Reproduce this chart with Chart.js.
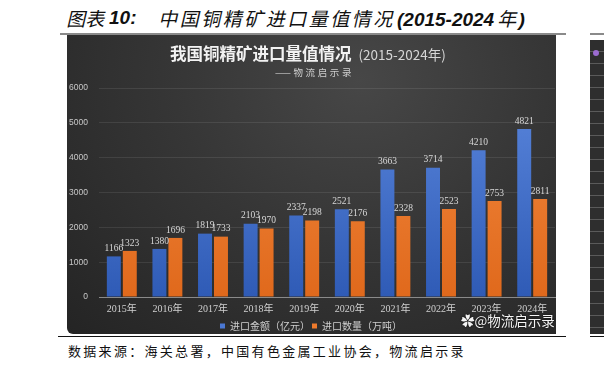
<!DOCTYPE html>
<html>
<head>
<meta charset="utf-8">
<script src="https://cdn.jsdelivr.net/npm/chart.js@4.4.1/dist/chart.umd.min.js"></script>
<style>
  html, body { margin: 0; padding: 0; background: #fff; }
  body { width: 604px; height: 370px; position: relative; overflow: hidden; }
  .hd { position: absolute; top: 7px; white-space: nowrap; color: #111; font-size: 19px; line-height: 22px; }
  .cj { font-family: "Noto Sans CJK SC", sans-serif; font-weight: normal; display: inline-block; transform: skewX(-13deg); }
  .lt { font-family: "Liberation Sans", sans-serif; font-weight: bold; font-style: italic; }
  #topline { position: absolute; left: 60px; top: 33px; width: 506px; height: 2px; background: #8a8a8a; }
  #botline { position: absolute; left: 58px; top: 336px; width: 508px; height: 1px; background: #111; }
  #panel {
    position: absolute; left: 67px; top: 35px; width: 489px; height: 299px;
    background: radial-gradient(ellipse at 60% 15%, #474747 0%, #363636 45%, #242424 100%);
    border-bottom-left-radius: 6px; overflow: hidden;
  }
  #chart { position: absolute; left: 0; top: 0; }
  #ctitle {
    position: absolute; left: 103px; top: 6px; white-space: nowrap; color: #f2f2f2;
    font: bold 16.5px "Noto Sans CJK SC", sans-serif;
  }
  #ctitle span { font-weight: normal; font-size: 13.5px; color: #d6d6d6; margin-left: 7px; }
  #csub {
    position: absolute; left: 208px; top: 30px; white-space: nowrap; color: #cfcfcf;
    font: 9.5px "Noto Sans CJK SC", sans-serif; letter-spacing: 2.6px;
  }
  #wm {
    position: absolute; left: 394px; top: 275px; white-space: nowrap; color: #f4f4f4;
    font: 13.5px "Noto Sans CJK SC", sans-serif; text-shadow: 0 0 2px #000;
  }
  #source {
    position: absolute; left: 68px; top: 341px; white-space: nowrap; color: #111;
    font: 13px "Noto Sans CJK SC", sans-serif; letter-spacing: 2.3px;
  }
  #side {
    position: absolute; left: 590px; top: 40px; width: 14px; height: 294px;
    background: repeating-linear-gradient(to bottom, #2e2e2e 0px, #2e2e2e 11px, #5a5a5a 11px, #5a5a5a 12px);
  }
  #sidetop { position: absolute; left: 590px; top: 33px; width: 14px; height: 2px; background: #8a8a8a; }
  #sidebot { position: absolute; left: 590px; top: 336px; width: 14px; height: 1px; background: #111; }
  #dot { position: absolute; left: 593px; top: 50px; width: 6px; height: 6px; border-radius: 50%; background: #9b6bd0; }
</style>
</head>
<body>
<div class="hd" style="left:68px"><span class="cj">图表</span></div>
<div class="hd" style="left:109px"><span class="lt">10:</span></div>
<div class="hd" style="left:160px"><span class="cj" style="letter-spacing:2.5px">中国铜精矿进口量值情况</span></div>
<div class="hd" style="left:397px"><span class="lt">(2015-2024 </span><span class="cj">年</span><span class="lt">)</span></div>
<div id="topline"></div>
<div id="panel">
  <canvas id="chart" width="489" height="306"></canvas>
  <div id="ctitle">我国铜精矿进口量值情况<span>(2015-2024年)</span></div>
  <div id="csub">——物流启示录</div>
  <div id="wm">&#10047;@物流启示录</div>
</div>
<div id="botline"></div>
<div id="sidetop"></div>
<div id="side"></div>
<div id="dot"></div>
<div id="sidebot"></div>
<div id="source">数据来源：海关总署，中国有色金属工业协会，物流启示录</div>

<script>
const years = ["2015年", "2016年", "2017年", "2018年", "2019年", "2020年", "2021年", "2022年", "2023年", "2024年"];
const importValue = [1166, 1380, 1819, 2103, 2337, 2521, 3663, 3714, 4210, 4821];   // 亿元
const importVolume = [1323, 1696, 1733, 1970, 2198, 2176, 2328, 2523, 2753, 2811];  // 万吨
const seriesNames = ["进口金额（亿元）", "进口数量（万吨）"];
const yTicks = [0, 1000, 2000, 3000, 4000, 5000, 6000];

// vertical gradient for each bar colour
function barFill(top, bottom) {
  return function(ctx) {
    const area = ctx.chart.chartArea;
    if (!area) return top;
    const g = ctx.chart.ctx.createLinearGradient(0, area.top, 0, area.bottom);
    g.addColorStop(0, top);
    g.addColorStop(1, bottom);
    return g;
  };
}

// numbers above bars
const valueLabels = {
  id: "valueLabels",
  afterDatasetsDraw(chart) {
    const ctx = chart.ctx;
    ctx.save();
    ctx.font = "9.5px 'Liberation Serif', serif";
    ctx.fillStyle = "#d8d8d8";
    ctx.textAlign = "center";
    ctx.textBaseline = "bottom";
    chart.data.datasets.forEach((ds, i) => {
      chart.getDatasetMeta(i).data.forEach((bar, j) => {
        ctx.fillText(ds.data[j], bar.x, bar.y - 3);
      });
    });
    ctx.restore();
  }
};

new Chart(document.getElementById("chart"), {
  type: "bar",
  data: {
    labels: years,
    datasets: [
      {
        label: seriesNames[0],
        data: importValue,
        backgroundColor: barFill("#5a86dc", "#2f5bb6"),
        categoryPercentage: 0.70,
        barPercentage: 0.875
      },
      {
        label: seriesNames[1],
        data: importVolume,
        backgroundColor: barFill("#f2893f", "#e0691c"),
        categoryPercentage: 0.70,
        barPercentage: 0.875
      }
    ]
  },
  options: {
    responsive: false,
    animation: false,
    layout: { padding: { top: 53, right: 1, bottom: 0, left: 0 } },
    plugins: {
      tooltip: { enabled: false },
      legend: {
        position: "bottom",
        labels: {
          color: "#cfcfcf",
          font: { size: 10, family: "'Noto Sans CJK SC', sans-serif" },
          boxWidth: 5,
          boxHeight: 5,
          padding: 2,
          generateLabels(chart) {
            const cols = ["#4a78d4", "#ee7a2c"];
            return chart.data.datasets.map((ds, i) => ({
              text: ds.label,
              fillStyle: cols[i],
              strokeStyle: cols[i],
              lineWidth: 0,
              fontColor: "#cfcfcf",
              datasetIndex: i
            }));
          }
        }
      }
    },
    scales: {
      x: {
        grid: { display: false, drawTicks: false },
        border: { color: "#8a8a8a", width: 1 },
        ticks: {
          color: "#d0d0d0",
          font: { size: 10, family: "'Liberation Serif', 'Noto Sans CJK SC', serif" },
          padding: 6
        },
        afterFit(scale) { scale.height = 22; }
      },
      y: {
        min: 0,
        max: 6000,
        afterBuildTicks(scale) { scale.ticks = yTicks.map(v => ({ value: v })); },
        grid: { color: "rgba(255,255,255,0.09)", drawTicks: false },
        border: { display: false },
        ticks: {
          color: "#c8c8c8",
          font: { size: 8.5, family: "'Liberation Sans', sans-serif" },
          padding: 11,
          callback: v => String(v)
        },
        afterFit(scale) { scale.width = 32; }
      }
    }
  },
  plugins: [valueLabels]
});
</script>
</body>
</html>
